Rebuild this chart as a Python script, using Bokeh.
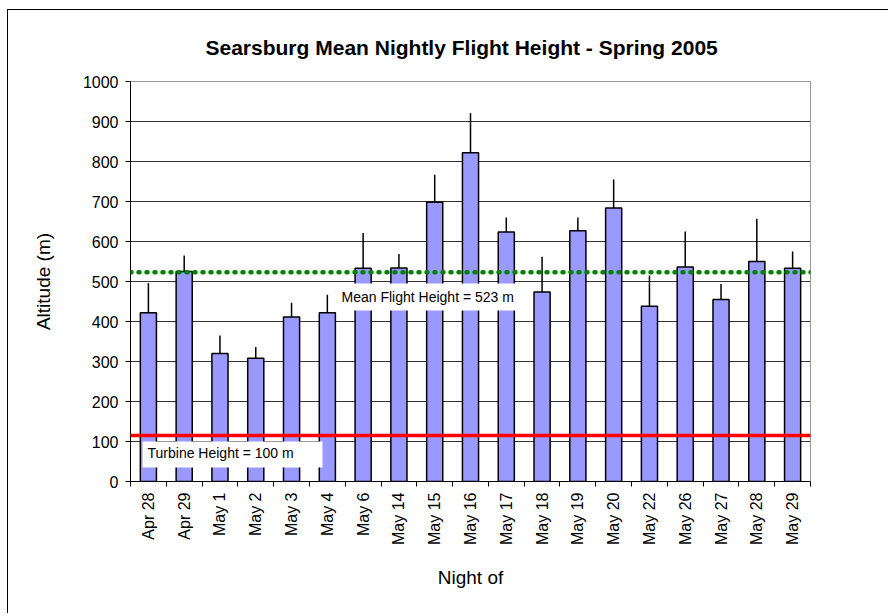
import math
from bokeh.plotting import figure
from bokeh.models import (Range1d, FixedTicker, BoxAnnotation, Label, Arrow, ColumnDataSource)
from bokeh.embed import file_html
from bokeh.resources import INLINE

# ---- data ----
nights = ["Apr 28", "Apr 29", "May 1", "May 2", "May 3", "May 4", "May 6", "May 14",
          "May 15", "May 16", "May 17", "May 18", "May 19", "May 20", "May 22",
          "May 26", "May 27", "May 28", "May 29"]
mean_height = [422, 525, 320, 308, 411, 422, 533, 534, 698, 822, 624, 474, 627, 684,
               438, 536, 455, 550, 533]
error_plus = [74, 40, 45, 28, 36, 45, 88, 35, 69, 99, 36, 88, 33, 71, 77, 89, 39, 107, 42]
overall_mean = 523
turbine_line = 115
y_ticks = [0, 100, 200, 300, 400, 500, 600, 700, 800, 900, 1000]

FONT = "Liberation Sans"
xs = list(range(len(nights)))
err_top = [m + e for m, e in zip(mean_height, error_plus)]
src = ColumnDataSource(dict(x=xs, top=mean_height, etop=err_top))

p = figure(width=881, height=604, output_backend="svg", toolbar_location=None,
           x_range=Range1d(-0.5, len(nights) - 0.5), y_range=Range1d(0, 1000),
           min_border_left=122, min_border_right=79, min_border_top=71, min_border_bottom=133,
           title="Searsburg Mean Nightly Flight Height - Spring 2005")
p.margin = (9, 0, 0, 7)
p.styles = {"border-left": "1px solid black", "border-top": "1px solid black"}

p.title.align = "left"
p.title.text_font = FONT
p.title.text_font_size = "21px"
p.title.text_font_style = "bold"
p.title.text_color = "black"
p.title.offset = 75
p.title.standoff = 46

p.outline_line_color = "#999999"
p.outline_line_width = 1
p.background_fill_color = "white"
p.border_fill_color = "white"

# grid
p.xgrid.grid_line_color = None
p.ygrid.grid_line_color = "#333333"
p.ygrid.grid_line_width = 1
p.yaxis.ticker = FixedTicker(ticks=y_ticks)

# bars
p.vbar(x="x", top="top", bottom=0, width=0.45, source=src,
       fill_color="#9999FF", line_color="black", line_width=1.5)
# error bars (upper only)
p.segment(x0="x", y0="top", x1="x", y1="etop", source=src, line_color="black", line_width=1.5)

# reference lines
p.add_layout(Arrow(end=None, x_start=-0.7235, y_start=overall_mean, x_end=18.975, y_end=overall_mean,
                   line_color="#008000", line_width=4.5, line_dash="1 7", line_cap="round"))
p.add_layout(Arrow(end=None, x_start=-0.7235, y_start=turbine_line, x_end=18.89, y_end=turbine_line,
                   line_color="#FF0000", line_width=3.5))

# label boxes
p.add_layout(BoxAnnotation(left=5.256, right=10.397, bottom=427.5, top=495,
                           fill_color="white", fill_alpha=1.0, line_color=None))
p.add_layout(BoxAnnotation(left=-0.165, right=4.865, bottom=35, top=100,
                           fill_color="white", fill_alpha=1.0, line_color=None))
p.add_layout(Label(x=5.396, y=462, text="Mean Flight Height = %d m" % overall_mean,
                   text_font=FONT, text_font_size="14px", text_baseline="middle", text_color="black"))
p.add_layout(Label(x=-0.025, y=72.5, text="Turbine Height = 100 m",
                   text_font=FONT, text_font_size="14px", text_baseline="middle", text_color="black"))

# axes
xa = p.xaxis[0]
xa.ticker = FixedTicker(ticks=xs, minor_ticks=[i - 0.5 for i in range(len(nights) + 1)])
xa.major_label_overrides = {i: n for i, n in enumerate(nights)}
xa.major_label_orientation = math.pi / 2
xa.major_tick_out = 0
xa.major_tick_in = 0
xa.minor_tick_out = 5
xa.minor_tick_in = 0
xa.minor_tick_line_color = "black"
xa.major_label_standoff = 6
xa.axis_label = "Night of"
xa.axis_label_standoff = 19

ya = p.yaxis[0]
ya.major_tick_out = 5
ya.major_tick_in = 0
ya.minor_tick_line_color = None
ya.major_label_standoff = 7
ya.axis_label = "Altitude (m)"
ya.axis_label_standoff = 26

for ax in (xa, ya):
    ax.axis_line_color = "black"
    ax.axis_line_width = 1
    ax.major_tick_line_color = "black"
    ax.major_label_text_font = FONT
    ax.major_label_text_font_size = "16px"
    ax.major_label_text_color = "black"
    ax.axis_label_text_font = FONT
    ax.axis_label_text_font_size = "19px"
    ax.axis_label_text_font_style = "normal"
    ax.axis_label_text_color = "black"

open("out.html", "w").write(file_html(p, INLINE))
